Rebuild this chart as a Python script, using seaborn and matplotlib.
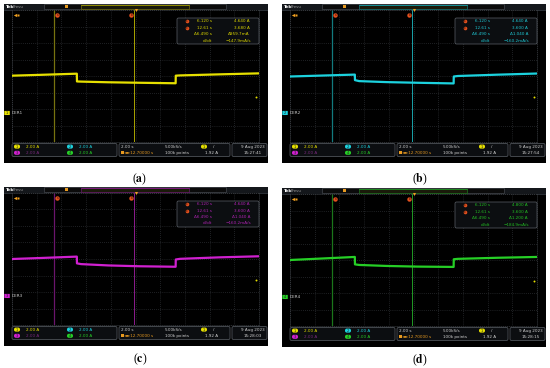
import matplotlib
matplotlib.use("Agg")
import matplotlib.pyplot as plt
import seaborn as sns
import pandas as pd
from matplotlib.patches import FancyBboxPatch, Rectangle
from matplotlib.transforms import blended_transform_factory

W, H = 550, 368

# scope settings: 2.00 s/div over 10 div, 2.00 A/div over 8 div
t_left, t_right = 2.7, 22.7
i_bottom, i_top = -3.52, 12.48
trigger_level = 1.92

labels = ["a", "b", "c", "d"]
channels = ["1", "2", "3", "4"]
trace_colors = ["#e6e000", "#1cd2de", "#d020d0", "#26cf26"]
cursor_colors = [("#77720f", "#aaa400"), ("#127a7e", "#1aa4aa"),
                 ("#6a156c", "#8c1c8e"), ("#1b761b", "#229a26")]
text_colors = ["#d8d200", "#1ec6d2", "#ad22b0", "#22bd22"]

# samples of the traces (s, A)
t_pts = [2.7, 5.0, 7.95, 7.96, 8.3, 10.5, 13.0, 15.95, 15.96, 16.3, 19.5, 22.7]
trace_a = [4.52, 4.62, 4.76, 3.82, 3.80, 3.72, 3.66, 3.60, 4.52, 4.55, 4.68, 4.80]
trace_b = [4.42, 4.52, 4.65, 3.98, 3.86, 3.74, 3.66, 3.58, 4.42, 4.48, 4.64, 4.78]
trace_c = [4.48, 4.60, 4.77, 3.95, 3.86, 3.70, 3.60, 3.54, 4.42, 4.50, 4.68, 4.81]
trace_d = [4.48, 4.64, 4.85, 3.95, 3.88, 3.76, 3.68, 3.64, 4.57, 4.62, 4.75, 4.85]
traces = [trace_a, trace_b, trace_c, trace_d]

# cursor readouts
cursor_times = [6.120, 12.61]
cursor_t_txt = ["6.120 s", "12.61 s", "Δ6.490 s"]
cursor_i_txt = [["4.640 A", "3.680 A", "Δ959.7mA"],
                ["4.640 A", "3.600 A", "Δ1.040 A"],
                ["4.640 A", "3.600 A", "Δ1.040 A"],
                ["4.800 A", "3.600 A", "Δ1.200 A"]]
didt_txt = ["−147.9mA/s", "−160.2mA/s", "−160.2mA/s", "−184.9mA/s"]
clock_txt = ["15:27:41", "15:27:54", "15:28:03", "15:28:15"]

panel_pos = [(4, 4), (282, 4), (4, 187), (282, 188)]
caption_pos = [(140, 179), (420, 179), (140, 359), (420, 360)]

plt.rcParams["mathtext.fontset"] = "stix"
fs = 3.0


def px_axes(fig, x, y, w, h):
    return fig.add_axes([x / W, 1 - (y + h) / H, w / W, h / H])


def pixel_canvas(ax):
    ax.set_xlim(0, 264)
    ax.set_ylim(159, 0)
    ax.set_xticks([])
    ax.set_yticks([])
    for s in ax.spines.values():
        s.set_visible(False)


def badge(ax, x, y, color, txt, w=6, h=4):
    ax.add_patch(FancyBboxPatch((x - w / 2, y - h / 2), w, h,
                                boxstyle="round,pad=0,rounding_size=1.8",
                                fc=color, ec="none", zorder=3))
    ax.text(x, y, txt, color="#202020", fontsize=2.6, ha="center",
            va="center", zorder=4)


def box(ax, x, y, w, h):
    ax.add_patch(FancyBboxPatch((x, y), w, h,
                                boxstyle="round,pad=0,rounding_size=1.5",
                                fc="#0c0e11", ec="#5c6168", lw=0.5, zorder=2))


fig = plt.figure(figsize=(W / 100, H / 100), dpi=100)
fig.patch.set_facecolor("white")

for k in range(4):
    px, py = panel_pos[k]
    col = trace_colors[k]
    tcol = text_colors[k]

    sc = px_axes(fig, px, py, 264, 159)
    pixel_canvas(sc)
    sc.set_facecolor("black")

    # top bar
    sc.add_patch(Rectangle((0, 0), 264, 5.5, fc="#14171b", ec="none"))
    sc.plot([0, 264], [5.6, 5.6], color="#3c434b", lw=0.5)
    sc.text(1.5, 2.9, "Tek", color="white", fontsize=3.2, weight="bold", va="center")
    sc.text(8.5, 2.9, "Prevu", color="#9a9a9a", fontsize=2.8, va="center")
    sc.add_patch(Rectangle((40, 0.4), 182, 4.8, fc="#0b0b0b", ec="#50555c", lw=0.4))
    sc.add_patch(Rectangle((77, 0.6), 108, 4.4, fc="#1a1a0a", ec=cursor_colors[k][0], lw=0.5))
    sc.plot([77, 185], [1.4, 1.4], color=cursor_colors[k][1], lw=0.5)
    sc.add_patch(Rectangle((60.5, 1.2), 3, 3.2, fc="#e89a20", ec="none"))

    # bottom status bar
    box(sc, 8, 139.5, 105, 13)
    box(sc, 115, 139.5, 111, 13)
    box(sc, 228, 139.5, 35, 13)
    r1, r2 = 142.6, 148.8
    badge(sc, 13, r1, trace_colors[0], "1")
    badge(sc, 13, r2, trace_colors[2], "3")
    badge(sc, 66, r1, trace_colors[1], "2")
    badge(sc, 66, r2, trace_colors[3], "4")
    sc.text(22, r1, "2.00 A", color=trace_colors[0], fontsize=fs, va="center")
    sc.text(22, r2, "2.00 A", color="#7a2a7e", fontsize=fs, va="center")
    sc.text(75, r1, "2.00 A", color=trace_colors[1], fontsize=fs, va="center")
    sc.text(75, r2, "2.00 A", color=trace_colors[3], fontsize=fs, va="center")
    sc.text(117, r1, "2.00 s", color="#d0d0d0", fontsize=fs, va="center")
    sc.text(161, r1, "5.00kS/s", color="#d0d0d0", fontsize=fs, va="center")
    badge(sc, 200, r1, trace_colors[0], "1")
    sc.text(209, r1, "/", color="#d0d0d0", fontsize=fs, va="center")
    sc.add_patch(Rectangle((116.5, r2 - 1.6), 3, 3.2, fc="#e89a20", ec="none", zorder=3))
    sc.text(120, r2, "◄►12.70000 s", color="#e89a20", fontsize=fs, va="center")
    sc.text(161, r2, "100k points", color="#d0d0d0", fontsize=fs, va="center")
    sc.text(201, r2, "1.92 A", color="#d0d0d0", fontsize=fs, va="center")
    sc.text(261, r1, "9 Aug 2023", color="#d0d0d0", fontsize=fs, ha="right", va="center")
    sc.text(258, r2, clock_txt[k], color="#d0d0d0", fontsize=fs, ha="right", va="center")

    # graticule
    gr = px_axes(fig, px + 8, py + 6, 247, 132)
    gr.set_facecolor("black")
    gr.set_xlim(t_left, t_right)
    gr.set_ylim(i_bottom, i_top)
    gr.set_xticks([t_left + 2 * j for j in range(11)])
    gr.set_yticks([i_bottom + 2 * j for j in range(9)])
    gr.tick_params(length=0, labelbottom=False, labelleft=False)
    gr.grid(True, color="#3b3f44", lw=0.5, ls=(0, (1, 2)))
    for s in gr.spines.values():
        s.set_color("#3b3f44")
        s.set_linestyle((0, (1, 2)))
        s.set_linewidth(0.5)

    for t, c, lw in zip(cursor_times, cursor_colors[k], [0.9, 0.7]):
        gr.axvline(t, color=c, lw=lw, zorder=2)
    df = pd.DataFrame({"t": t_pts, "i": traces[k]})
    sns.lineplot(data=df, x="t", y="i", ax=gr, color=col, lw=1.6, zorder=4,
                 estimator=None, sort=False)
    gr.set_xlabel("")
    gr.set_ylabel("")

    top = blended_transform_factory(gr.transData, gr.transAxes)
    for t, lt, dx in zip(cursor_times, ["a", "b"], [0.25, -0.25]):
        gr.plot([t + dx], [0.965], marker="o", ms=3.2, color="#e4501e",
                mec="none", transform=top, clip_on=False, zorder=5)
        gr.text(t + dx, 0.965, lt, color="#301000", fontsize=2.0, ha="center",
                va="center", transform=top, zorder=6)
    gr.plot([t_left + 0.25], [0.965], marker="<", ms=2.4, color="#f0a020",
            mec="none", transform=top, clip_on=False, zorder=5)
    gr.plot([t_left + 0.5], [0.965], marker="s", ms=1.6, color="#f0a020",
            mec="none", transform=top, clip_on=False, zorder=5)
    gr.plot([12.7], [1.0], marker="v", ms=2.2, color="#f0a020",
            mec="none", transform=top, clip_on=False, zorder=5)

    gr.plot([t_right - 0.25], [trigger_level], marker="o", ms=1.4,
            color=trace_colors[0], mec="none", zorder=5)

    left = blended_transform_factory(gr.transAxes, gr.transData)
    gr.add_patch(FancyBboxPatch((-0.031, -0.25), 0.022, 0.5,
                                boxstyle="round,pad=0,rounding_size=0.004",
                                fc=col, ec="none", transform=left, clip_on=False, zorder=5))
    gr.text(-0.020, 0.0, channels[k], color="#202020", fontsize=2.6, ha="center",
            va="center", transform=left, clip_on=False, zorder=6)
    gr.text(-0.002, 0.0, "DER" + channels[k], color="#cfcfcf", fontsize=fs,
            va="center", transform=left, clip_on=False, zorder=6)

    # cursor readout, on a transparent layer above the graticule
    ov = px_axes(fig, px, py, 264, 159)
    pixel_canvas(ov)
    ov.patch.set_alpha(0)
    box(ov, 173, 14, 82, 26)
    rows = [17.3, 23.7, 30.0, 36.5]
    for r, lt in zip(rows[:2], ["a", "b"]):
        ov.plot([183], [r], marker="o", ms=2.6, color="#e4501e", mec="none", zorder=3)
        ov.text(183, r, lt, color="#301000", fontsize=1.8, ha="center", va="center", zorder=4)
    for r, s1, s2 in zip(rows[:3], cursor_t_txt, cursor_i_txt[k]):
        ov.text(208, r, s1, color=tcol, fontsize=fs, ha="right", va="center", zorder=4)
        ov.text(246, r, s2, color=tcol, fontsize=fs, ha="right", va="center", zorder=4)
    ov.text(203, rows[3], "dI/dt", color=tcol, fontsize=fs, ha="center", va="center", zorder=4)
    ov.text(247, rows[3], didt_txt[k], color=tcol, fontsize=fs, ha="right", va="center", zorder=4)

    cx, cy = caption_pos[k]
    fig.text(cx / W, 1 - cy / H, r"($\mathbf{" + labels[k] + r"}$)",
             fontsize=8.5, ha="center", va="center", family="Liberation Serif")

fig.savefig("out.png", dpi=100, facecolor="white")
